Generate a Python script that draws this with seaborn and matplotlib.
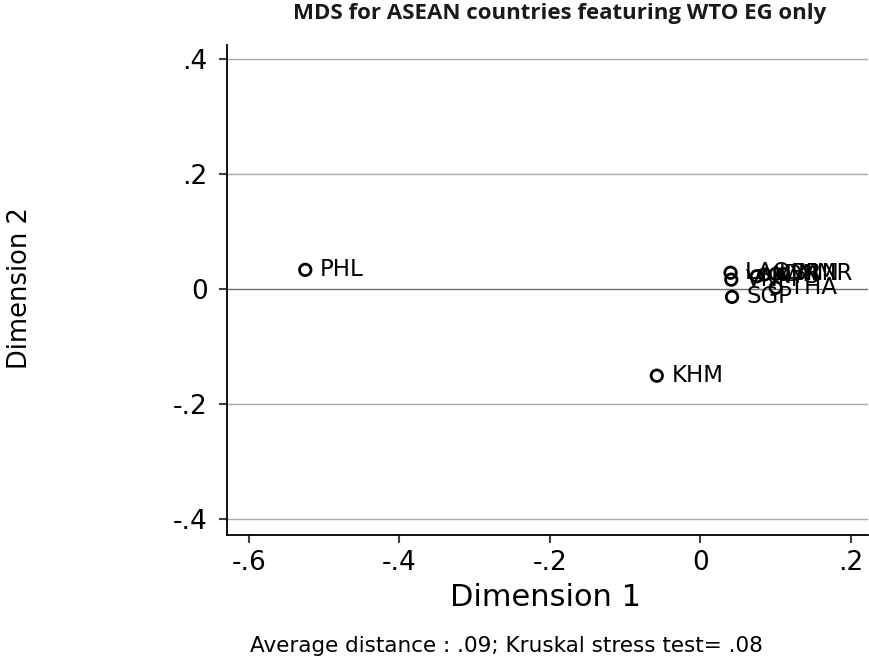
import matplotlib
matplotlib.use("Agg")
import matplotlib.pyplot as plt
import seaborn as sns
import pandas as pd

# Data
countries = ["PHL", "KHM", "SGP", "LAO", "VNM", "MYS", "IDN", "BRN", "MMR", "THA"]
dim1 = [-0.525, -0.058, 0.042, 0.040, 0.041, 0.075, 0.085, 0.100, 0.110, 0.100]
dim2 = [0.033, -0.151, -0.014, 0.028, 0.016, 0.022, 0.025, 0.026, 0.026, 0.002]
xticks = [-0.6, -0.4, -0.2, 0.0, 0.2]
xticklabels = ["-.6", "-.4", "-.2", "0", ".2"]
yticks = [-0.4, -0.2, 0.0, 0.2, 0.4]
yticklabels = ["-.4", "-.2", "0", ".2", ".4"]

df = pd.DataFrame({"country": countries, "dim1": dim1, "dim2": dim2})

sns.set_theme(style="white")
plt.rcParams["font.family"] = ["DejaVu Sans"]

fig = plt.figure(figsize=(8.69, 6.57), dpi=100)
ax = fig.add_axes([227 / 869, 1 - 535 / 657, (868 - 227) / 869, (535 - 45) / 657])

ax.set_xlim(-0.629, 0.2226)
ax.set_ylim(-0.428, 0.424)

for t in yticks:
    ax.axhline(t, color="#707070" if t == 0 else "#a8a8a8", lw=1.0, zorder=0)

sns.scatterplot(data=df, x="dim1", y="dim2", ax=ax, marker="o", s=68,
                facecolors="none", edgecolor="black", linewidth=2.0, zorder=3,
                legend=False)

for c, x, y in zip(countries, dim1, dim2):
    ax.annotate(c, (x, y), xytext=(10.5, 0), textcoords="offset points",
                ha="left", va="center", fontsize=16.5, color="black", zorder=4)

ax.set_xticks(xticks)
ax.set_xticklabels(xticklabels)
ax.set_yticks(yticks)
ax.set_yticklabels(yticklabels)
ax.tick_params(axis="both", which="major", direction="out", length=6, width=1.5,
               color="#404040", labelsize=19, labelcolor="black", pad=5,
               bottom=True, left=True)
ax.tick_params(axis="y", pad=8)

for side in ["top", "right"]:
    ax.spines[side].set_visible(False)
for side in ["left", "bottom"]:
    ax.spines[side].set_visible(True)
    ax.spines[side].set_color("black")
    ax.spines[side].set_linewidth(1.3)

ax.set_xlabel("")
ax.set_ylabel("")

fig.text(546 / 869, 1 - 598 / 657, "Dimension 1", ha="center", va="center",
         fontsize=22, color="black")
fig.text(20 / 869, 1 - 288 / 657, "Dimension 2", ha="center", va="center",
         rotation=90, fontsize=18.5, color="black")
fig.text(560 / 869, 1 - 13 / 657, "MDS for ASEAN countries featuring WTO EG only",
         ha="center", va="center", fontsize=16, fontweight="bold",
         family=["Open Sans", "DejaVu Sans"], color="#1a1a1a")
fig.text(506 / 869, 1 - 646 / 657, "Average distance : .09; Kruskal stress test= .08",
         ha="center", va="center", fontsize=15.5, color="black")

fig.savefig("out.png", dpi=100, facecolor="white")
